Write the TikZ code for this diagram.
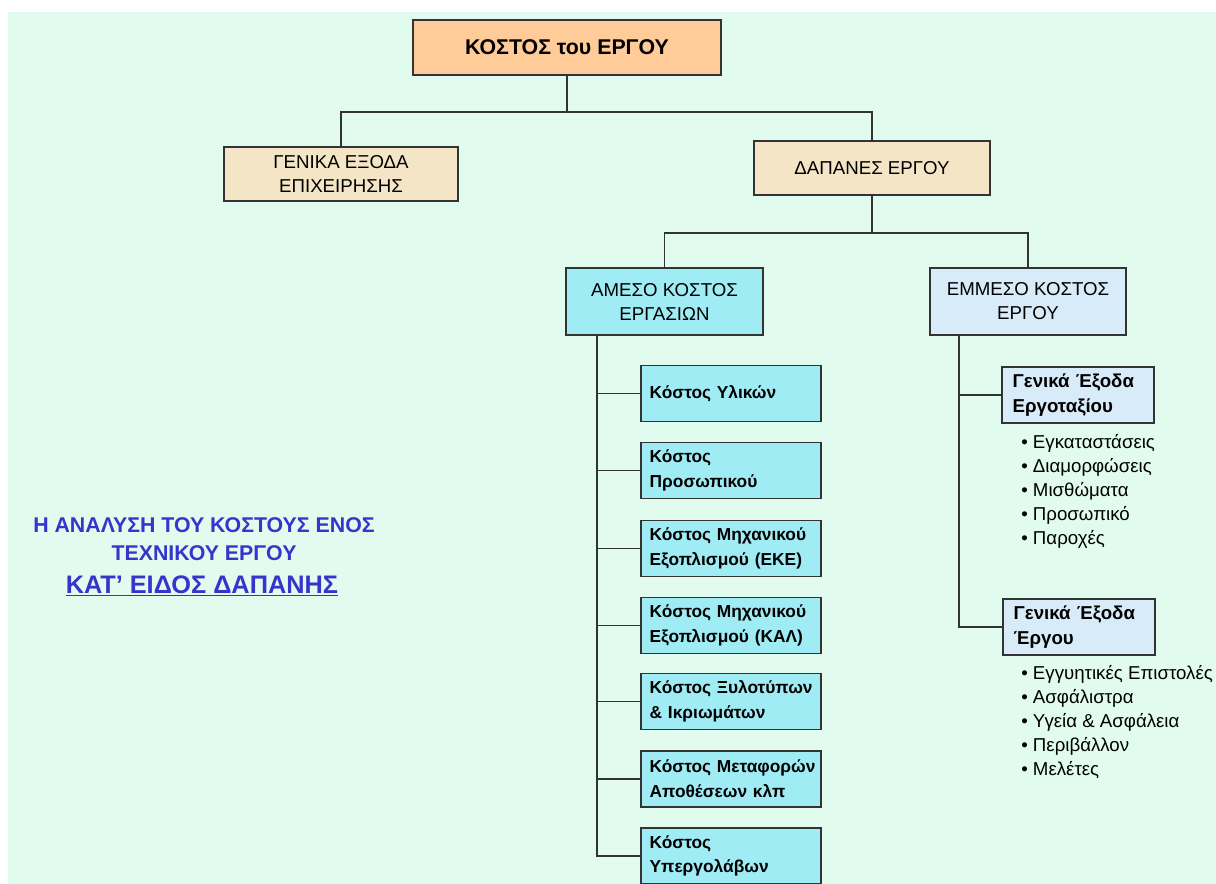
\documentclass[tikz,border=0pt]{standalone}
\usepackage{fontspec}
\setmainfont{Liberation Sans}
\usepackage{color}
\definecolor{mint}{HTML}{E1FCEF}
\definecolor{peach}{HTML}{FFCC99}
\definecolor{wheat}{HTML}{F3E5C6}
\definecolor{cyanbox}{HTML}{A0ECF5}
\definecolor{paleblue}{HTML}{D8EBF8}
\definecolor{edge}{HTML}{333333}
\definecolor{titleblue}{HTML}{3535CC}

\begin{document}
\begin{tikzpicture}[x=0.75pt,y=-0.75pt]
\tikzstyle{every node}+=[inner sep=0pt]
\tikzstyle{box}=[draw=edge,line width=1.1pt]
\tikzstyle{topbox}=[box,align=center,font=\fontsize{14}{18}\selectfont]
\tikzstyle{costbox}=[box,fill=cyanbox,align=left,inner xsep=6.5pt,text width=122pt,minimum height=42pt,font=\bfseries\fontsize{13}{18.5}\selectfont]
\tikzstyle{subbox}=[box,fill=paleblue,align=left,inner xsep=8pt,text width=98pt,minimum height=42pt,font=\bfseries\fontsize{14}{18.5}\selectfont]
\tikzstyle{items}=[anchor=north west,align=left,font=\fontsize{14}{18}\selectfont]
\tikzstyle{heading}=[text=titleblue,font=\bfseries\fontsize{16}{18}\selectfont]
\tikzstyle{wire}=[draw=edge,line width=1.4pt]
\useasboundingbox (0,0) rectangle (1216,884);
\fill [mint] (8,12) rectangle (1216,884);
% top levels
\node [box,fill=peach,minimum width=231pt,minimum height=41pt,font=\bfseries\fontsize{16}{19}\selectfont] (root) at (567,47.5) {ΚΟΣΤΟΣ του ΕΡΓΟΥ};
\node [topbox,fill=wheat,minimum width=175.5pt,minimum height=40.5pt] (genika) at (341,174) {ΓΕΝΙΚΑ ΕΞΟΔΑ\\ΕΠΙΧΕΙΡΗΣΗΣ};
\node [topbox,fill=wheat,minimum width=177pt,minimum height=40.5pt] (dapanes) at (872,168) {ΔΑΠΑΝΕΣ ΕΡΓΟΥ};
\node [topbox,fill=cyanbox,minimum width=147.75pt,minimum height=50.25pt] (amesa) at (664.5,301.5) {ΑΜΕΣΟ ΚΟΣΤΟΣ\\ΕΡΓΑΣΙΩΝ};
\node [topbox,fill=paleblue,minimum width=147pt,minimum height=50.25pt] (emmesa) at (1028,301.5) {ΕΜΜΕΣΟ ΚΟΣΤΟΣ\\ΕΡΓΟΥ};
% direct costs
\node [costbox] (k1) at (731,393.5) {Κόστος Υλικών};
\node [costbox] (k2) at (731,470.5) {Κόστος\\Προσωπικού};
\node [costbox] (k3) at (731,548.5) {\mbox{Κόστος Μηχανικού}\\Εξοπλισμού (ΕΚΕ)};
\node [costbox] (k4) at (731,625.5) {\mbox{Κόστος Μηχανικού}\\Εξοπλισμού (ΚΑΛ)};
\node [costbox] (k5) at (731,701.5) {\mbox{Κόστος Ξυλοτύπων}\\\& Ικριωμάτων};
\node [costbox] (k6) at (731,779) {\mbox{Κόστος Μεταφορών}\\Αποθέσεων κλπ};
\node [costbox] (k7) at (731,856) {Κόστος\\Υπεργολάβων};
% indirect costs
\node [subbox] (ergotaxio) at (1078,395) {Γενικά Έξοδα\\Εργοταξίου};
\node [subbox] (ergo) at (1079,627) {Γενικά Έξοδα\\Έργου};
\node [items] (list1) at (1021,434) {• Εγκαταστάσεις\\• Διαμορφώσεις\\• Μισθώματα\\• Προσωπικό\\• Παροχές};
\node [items] (list2) at (1021,665) {• Εγγυητικές Επιστολές\\• Ασφάλιστρα\\• Υγεία \& Ασφάλεια\\• Περιβάλλον\\• Μελέτες};
% title
\node [heading] (title1) at (204,525) {Η ΑΝΑΛΥΣΗ ΤΟΥ ΚΟΣΤΟΥΣ ΕΝΟΣ};
\node [heading] (title2) at (204,553) {ΤΕΧΝΙΚΟΥ ΕΡΓΟΥ};
\node [heading,font=\bfseries\fontsize{19}{22}\selectfont] (title3) at (202,586) {\underline{ΚΑΤ’ ΕΙΔΟΣ ΔΑΠΑΝΗΣ}};
% connectors
\draw [wire] (root.south) -- ++(0,36.5) -| (genika.north);
\draw [wire] (root.south) -- ++(0,36.5) -| (dapanes.north);
\draw [wire] (dapanes.south) -- ++(0,37) -| (amesa.north);
\draw [wire] (dapanes.south) -- ++(0,37) -| (emmesa.north);
\foreach \i in {1,...,7}
  \draw [wire] ([xshift=24pt]amesa.south west) |- (k\i.west);
\foreach \j in {ergotaxio,ergo}
  \draw [wire] ([xshift=22.5pt]emmesa.south west) |- (\j.west);
\end{tikzpicture}
\end{document}
